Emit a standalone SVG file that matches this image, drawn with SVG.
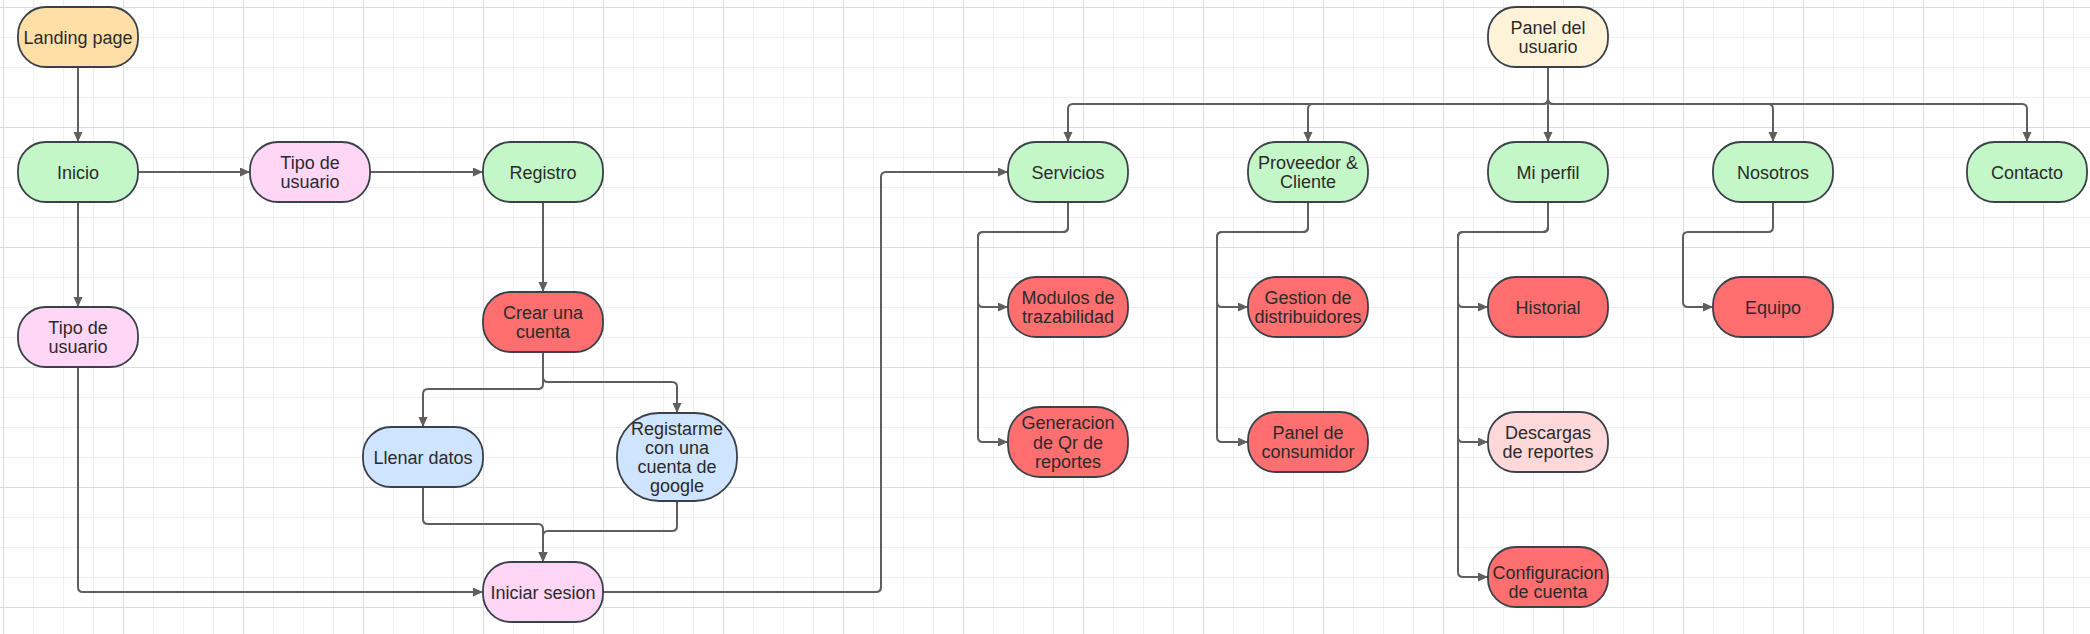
<svg xmlns="http://www.w3.org/2000/svg" width="2090" height="634" viewBox="0 0 2090 634">
<style>
.n{stroke:#3b4149;stroke-width:1.8}
.t{font-family:"Liberation Sans",Arial,sans-serif;font-size:18px;fill:#2b2b2b;text-anchor:middle}
.c path{fill:none;stroke:#5f5f5f;stroke-width:2;marker-end:url(#ah)}
.g{fill:#c3f7c8}.p{fill:#ffd6f6}.r{fill:#ff6f6f}.b{fill:#cfe4ff}
</style>
<defs>
<pattern id="gm" x="3" y="7" width="30" height="30" patternUnits="userSpaceOnUse"><path d="M0 0H30M0 0V30" fill="none" stroke="#ececec" stroke-width="1.5"/></pattern>
<pattern id="gM" x="3" y="7" width="120" height="120" patternUnits="userSpaceOnUse"><path d="M0 0H120M0 0V120" fill="none" stroke="#dcdcdc" stroke-width="1.8"/></pattern>
<marker id="ah" markerUnits="userSpaceOnUse" markerWidth="11" markerHeight="10" refX="10" refY="4.5" orient="auto"><path d="M0 0L10 4.5L0 9z" fill="#5f5f5f"/></marker>
</defs>
<rect width="2090" height="634" fill="#ffffff"/>
<rect width="2090" height="634" fill="url(#gm)"/>
<rect width="2090" height="634" fill="url(#gM)"/>
<g class="c" id="connectors">
<path d="M78 67V142"/>
<path d="M138 172H250"/>
<path d="M370 172H483"/>
<path d="M543 202V292"/>
<path d="M78 202V307"/>
<path d="M78 367V587Q78 592 83 592H483"/>
<path d="M543 352V384Q543 389 538 389H428Q423 389 423 394V427"/>
<path d="M543 352V377Q543 382 548 382H672Q677 382 677 387V413"/>
<path d="M423 487V519Q423 524 428 524H538Q543 524 543 529V562"/>
<path d="M677 501V526Q677 531 672 531H548Q543 531 543 536V562"/>
<path d="M603 592H876Q881 592 881 587V177Q881 172 886 172H1008"/>
<path d="M1548 67V99Q1548 104 1543 104H1073Q1068 104 1068 109V142"/>
<path d="M1548 67V99Q1548 104 1543 104H1313Q1308 104 1308 109V142"/>
<path d="M1548 67V142"/>
<path d="M1548 67V99Q1548 104 1553 104H1768Q1773 104 1773 109V142"/>
<path d="M1548 67V99Q1548 104 1553 104H2022Q2027 104 2027 109V142"/>
<path d="M1068 202V227Q1068 232 1063 232H983Q978 232 978 237V302Q978 307 983 307H1008"/>
<path d="M1068 202V227Q1068 232 1063 232H983Q978 232 978 237V437Q978 442 983 442H1008"/>
<path d="M1308 202V227Q1308 232 1303 232H1222Q1217 232 1217 237V302Q1217 307 1222 307H1248"/>
<path d="M1308 202V227Q1308 232 1303 232H1222Q1217 232 1217 237V437Q1217 442 1222 442H1248"/>
<path d="M1548 202V227Q1548 232 1543 232H1463Q1458 232 1458 237V302Q1458 307 1463 307H1488"/>
<path d="M1548 202V227Q1548 232 1543 232H1463Q1458 232 1458 237V437Q1458 442 1463 442H1488"/>
<path d="M1548 202V227Q1548 232 1543 232H1463Q1458 232 1458 237V572Q1458 577 1463 577H1488"/>
<path d="M1773 202V227Q1773 232 1768 232H1688Q1683 232 1683 237V302Q1683 307 1688 307H1713"/>
</g>
<g id="landing"><rect class="n" x="18" y="7" width="120" height="60" rx="28" fill="#ffdfa6"/><text class="t" x="78" y="43.5">Landing page</text></g>
<g id="inicio"><rect class="n g" x="18" y="142" width="120" height="60" rx="28"/><text class="t" x="78" y="178.5">Inicio</text></g>
<g id="tipo1"><rect class="n p" x="250" y="142" width="120" height="60" rx="28"/><text class="t" x="310" y="168.7">Tipo de</text><text class="t" x="310" y="188.3">usuario</text></g>
<g id="registro"><rect class="n g" x="483" y="142" width="120" height="60" rx="28"/><text class="t" x="543" y="178.5">Registro</text></g>
<g id="tipo2"><rect class="n p" x="18" y="307" width="120" height="60" rx="28"/><text class="t" x="78" y="333.7">Tipo de</text><text class="t" x="78" y="353.3">usuario</text></g>
<g id="crear"><rect class="n r" x="483" y="292" width="120" height="60" rx="28"/><text class="t" x="543" y="318.7">Crear una</text><text class="t" x="543" y="338.3">cuenta</text></g>
<g id="llenar"><rect class="n b" x="363" y="427" width="120" height="60" rx="28"/><text class="t" x="423" y="463.5">Llenar datos</text></g>
<g id="google"><rect class="n b" x="617" y="413" width="120" height="88" rx="42"/><text class="t" x="677" y="434.5">Registarme</text><text class="t" x="677" y="453.5">con una</text><text class="t" x="677" y="472.5">cuenta de</text><text class="t" x="677" y="491.5">google</text></g>
<g id="iniciar"><rect class="n p" x="483" y="562" width="120" height="60" rx="28"/><text class="t" x="543" y="598.5">Iniciar sesion</text></g>
<g id="panel"><rect class="n" x="1488" y="7" width="120" height="60" rx="28" fill="#fff3d9"/><text class="t" x="1548" y="33.7">Panel del</text><text class="t" x="1548" y="53.3">usuario</text></g>
<g id="servicios"><rect class="n g" x="1008" y="142" width="120" height="60" rx="28"/><text class="t" x="1068" y="178.5">Servicios</text></g>
<g id="proveedor"><rect class="n g" x="1248" y="142" width="120" height="60" rx="28"/><text class="t" x="1308" y="168.7">Proveedor &amp;</text><text class="t" x="1308" y="188.3">Cliente</text></g>
<g id="miperfil"><rect class="n g" x="1488" y="142" width="120" height="60" rx="28"/><text class="t" x="1548" y="178.5">Mi perfil</text></g>
<g id="nosotros"><rect class="n g" x="1713" y="142" width="120" height="60" rx="28"/><text class="t" x="1773" y="178.5">Nosotros</text></g>
<g id="contacto"><rect class="n g" x="1967" y="142" width="120" height="60" rx="28"/><text class="t" x="2027" y="178.5">Contacto</text></g>
<g id="modulos"><rect class="n r" x="1008" y="277" width="120" height="60" rx="28"/><text class="t" x="1068" y="303.7">Modulos de</text><text class="t" x="1068" y="323.3">trazabilidad</text></g>
<g id="generacion"><rect class="n r" x="1008" y="407" width="120" height="70" rx="32"/><text class="t" x="1068" y="429">Generacion</text><text class="t" x="1068" y="448.5">de Qr de</text><text class="t" x="1068" y="468">reportes</text></g>
<g id="gestion"><rect class="n r" x="1248" y="277" width="120" height="60" rx="28"/><text class="t" x="1308" y="303.7">Gestion de</text><text class="t" x="1308" y="323.3">distribuidores</text></g>
<g id="consumidor"><rect class="n r" x="1248" y="412" width="120" height="60" rx="28"/><text class="t" x="1308" y="438.7">Panel de</text><text class="t" x="1308" y="458.3">consumidor</text></g>
<g id="historial"><rect class="n r" x="1488" y="277" width="120" height="60" rx="28"/><text class="t" x="1548" y="313.5">Historial</text></g>
<g id="descargas"><rect class="n" x="1488" y="412" width="120" height="60" rx="28" fill="#ffd9d9"/><text class="t" x="1548" y="438.7">Descargas</text><text class="t" x="1548" y="458.3">de reportes</text></g>
<g id="config"><rect class="n r" x="1488" y="547" width="120" height="60" rx="28"/><text class="t" x="1548" y="578.5">Configuracion</text><text class="t" x="1548" y="597.5">de cuenta</text></g>
<g id="equipo"><rect class="n r" x="1713" y="277" width="120" height="60" rx="28"/><text class="t" x="1773" y="313.5">Equipo</text></g>
</svg>
